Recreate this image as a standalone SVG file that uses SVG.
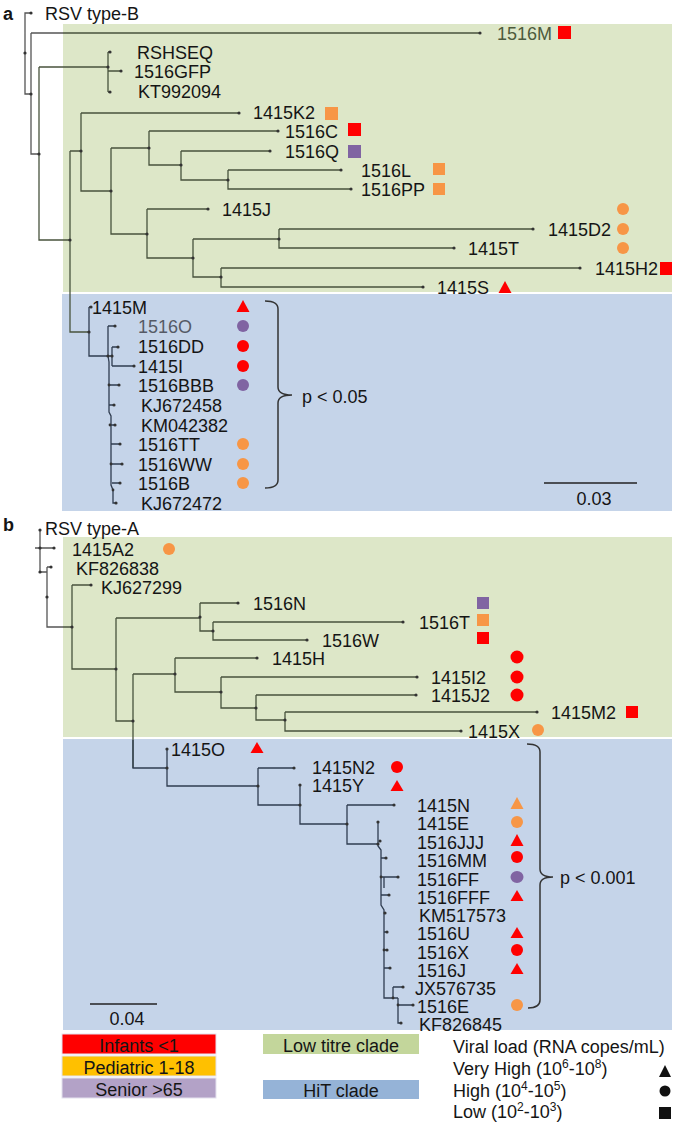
<svg xmlns="http://www.w3.org/2000/svg" width="675" height="1126" viewBox="0 0 675 1126">
<style>
text{font-family:"Liberation Sans",Arial,sans-serif;font-size:18px;fill:#151515}
.lbl{font-weight:bold}
.gy{fill:#4d5a3c}
.gb{fill:#555a66}
.ew{fill:none;stroke:#555;stroke-width:1.3}
.eg{fill:none;stroke:#48533d;stroke-width:1.3}
.eb{fill:none;stroke:#2f3c50;stroke-width:1.3}
.nd circle{fill:#333}
.red{fill:#ff0000}
.org{fill:#f79646}
.pur{fill:#8064a2}
.blk{fill:#111}
.br{fill:none;stroke:#333;stroke-width:1.5}
.sb{stroke:#222;stroke-width:1.5}
.lg{stroke:#e4e2ee;stroke-width:1}
.ct{text-anchor:middle}
</style>
<g id="backgrounds">
<rect x="63" y="24" width="609" height="268" fill="#dde7c8"/>
<rect x="62" y="294" width="610" height="217" fill="#c5d4e9"/>
<rect x="63" y="537" width="609" height="200" fill="#dde7c8"/>
<rect x="63" y="739" width="609" height="291" fill="#c5d4e9"/>
</g>
<text class="lbl" x="3" y="20">a</text>
<text class="lbl" x="3" y="531">b</text>
<g id="connectors">
<path class="ew" d="M31,13 H25 V94 H31 M31,33 V154 H39 M31,33 H63"/>
<path class="eg" d="M63,33 H480 M39,67 V240 H70 M39,67 H108 M108,52 V92 M108,52 H110 M108,71 H121 M108,92 H110
M70,151 V332 H89 M70,151 H81 M81,113 V191 H111 M81,113 H239 M111,148 V234 H147 M111,148 H149
M149,131 V165 H181 M149,131 H278 M181,151 V180 H228 M181,151 H270 M228,170 V189 H351 M228,170 H341
M147,209 V258 H193 M147,209 H208 M193,239 V277 H221 M193,239 H279 M279,229 V248 H454 M279,229 H533
M221,268 V287 H423 M221,268 H580"/>
<path class="eb" d="M89,307 V356 H112 M89,307 H91 M108,326 V356 M108,326 H115 M112,347 V366 M112,347 H118 M112,366 H134
M108,356 L109,362 V412 L111,416 V485 L113,490 V503 H116 M109,385 H119 M109,405 H114 M110,425 H115 M111,444 H120 M111,464 H122 M112,483 H120"/>
<path class="ew" d="M40,530 V572 H47 M35,548 H54 M47,567 V627 H63 M47,567 H51"/>
<path class="eg" d="M63,627 H72 M72,585 V669 H116 M72,585 H91 M116,618 V721 H133 M116,618 H200 M200,603 V631 H213 M200,603 H238
M213,622 V640 H307 M213,622 H403 M133,674 V768 M133,674 H175 M175,658 V692 H221 M175,658 H257
M221,677 V708 H256 M221,677 H417 M256,695 V720 H285 M256,695 H416 M285,712 V731 H461 M285,712 H537"/>
<path class="eb" d="M133,740 V768 H167 M167,749 V786 H258 M258,768 V805 H300 M258,768 H294 M300,785 V824 H347 M347,805 V844 H378 M347,805 H394
M378,822 V846 L381,850 V905 L384,910 V998 H398 M381,858 H386 M381,877 H384 V888 M384,877 H398 M381,895 H389 M384,913 H385 M384,932 H387 M384,950 H387 M384,968 H390
M393,987 V998 M393,987 H403 M398,998 V1023 H401 M398,1005 H413"/>
</g>
<g id="node-dots" class="nd">
<circle cx="31" cy="13" r="1.6"/><circle cx="25" cy="53" r="1.6"/><circle cx="31" cy="94" r="1.6"/><circle cx="480" cy="33" r="1.6"/><circle cx="39" cy="154" r="1.6"/><circle cx="108" cy="67" r="1.6"/><circle cx="110" cy="52" r="1.6"/><circle cx="121" cy="71" r="1.6"/><circle cx="110" cy="92" r="1.6"/><circle cx="239" cy="113" r="1.6"/><circle cx="70" cy="240" r="1.6"/><circle cx="81" cy="151" r="1.6"/><circle cx="111" cy="191" r="1.6"/><circle cx="278" cy="131" r="1.6"/><circle cx="149" cy="148" r="1.6"/><circle cx="270" cy="151" r="1.6"/><circle cx="181" cy="165" r="1.6"/><circle cx="228" cy="180" r="1.6"/><circle cx="341" cy="170" r="1.6"/><circle cx="351" cy="189" r="1.6"/><circle cx="208" cy="209" r="1.6"/><circle cx="147" cy="234" r="1.6"/><circle cx="193" cy="258" r="1.6"/><circle cx="279" cy="239" r="1.6"/><circle cx="533" cy="229" r="1.6"/><circle cx="454" cy="248" r="1.6"/><circle cx="221" cy="277" r="1.6"/><circle cx="580" cy="268" r="1.6"/><circle cx="423" cy="287" r="1.6"/>
<circle cx="89" cy="332" r="1.6"/><circle cx="91" cy="307" r="1.6"/><circle cx="115" cy="326" r="1.6"/><circle cx="108" cy="356" r="1.6"/><circle cx="112" cy="356" r="1.6"/><circle cx="118" cy="347" r="1.6"/><circle cx="134" cy="366" r="1.6"/><circle cx="119" cy="385" r="1.6"/><circle cx="114" cy="405" r="1.6"/><circle cx="115" cy="425" r="1.6"/><circle cx="120" cy="444" r="1.6"/><circle cx="122" cy="464" r="1.6"/><circle cx="120" cy="483" r="1.6"/><circle cx="116" cy="503" r="1.6"/><circle cx="109" cy="385" r="1.4"/><circle cx="110" cy="425" r="1.4"/><circle cx="111" cy="464" r="1.4"/><circle cx="113" cy="490" r="1.4"/>
<circle cx="40" cy="530" r="1.6"/><circle cx="40" cy="548" r="1.6"/><circle cx="54" cy="548" r="1.6"/><circle cx="40" cy="572" r="1.6"/><circle cx="47" cy="597" r="1.6"/><circle cx="51" cy="567" r="1.6"/><circle cx="72" cy="627" r="1.6"/><circle cx="91" cy="585" r="1.6"/><circle cx="116" cy="669" r="1.6"/><circle cx="200" cy="617" r="1.6"/><circle cx="238" cy="603" r="1.6"/><circle cx="213" cy="631" r="1.6"/><circle cx="403" cy="622" r="1.6"/><circle cx="307" cy="640" r="1.6"/><circle cx="133" cy="721" r="1.6"/><circle cx="175" cy="674" r="1.6"/><circle cx="257" cy="658" r="1.6"/><circle cx="221" cy="692" r="1.6"/><circle cx="417" cy="677" r="1.6"/><circle cx="256" cy="708" r="1.6"/><circle cx="416" cy="695" r="1.6"/><circle cx="285" cy="720" r="1.6"/><circle cx="537" cy="712" r="1.6"/><circle cx="461" cy="731" r="1.6"/>
<circle cx="167" cy="768" r="1.6"/><circle cx="167" cy="749" r="1.6"/><circle cx="258" cy="786" r="1.6"/><circle cx="294" cy="768" r="1.6"/><circle cx="300" cy="805" r="1.6"/><circle cx="300" cy="785" r="1.6"/><circle cx="347" cy="824" r="1.6"/><circle cx="394" cy="805" r="1.6"/><circle cx="378" cy="844" r="1.6"/><circle cx="378" cy="822" r="1.6"/><circle cx="380" cy="841" r="1.6"/><circle cx="386" cy="858" r="1.6"/><circle cx="398" cy="877" r="1.6"/><circle cx="389" cy="895" r="1.6"/><circle cx="385" cy="913" r="1.6"/><circle cx="387" cy="932" r="1.6"/><circle cx="387" cy="950" r="1.6"/><circle cx="390" cy="968" r="1.6"/><circle cx="403" cy="987" r="1.6"/><circle cx="413" cy="1005" r="1.6"/><circle cx="401" cy="1023" r="1.6"/><circle cx="381" cy="877" r="1.4"/><circle cx="384" cy="950" r="1.4"/><circle cx="393" cy="998" r="1.4"/><circle cx="398" cy="1005" r="1.4"/>
</g>
<!-- panel a leaves -->
<g id="a-RSVB"><text x="45" y="20">RSV type-B</text></g>
<g id="a-1516M"><text class="gy" x="497" y="40">1516M</text><rect class="red" x="558" y="26" width="13" height="13"/></g>
<g id="a-RSHSEQ"><text x="137" y="59">RSHSEQ</text></g>
<g id="a-1516GFP"><text x="134" y="78">1516GFP</text></g>
<g id="a-KT992094"><text x="138" y="98">KT992094</text></g>
<g id="a-1415K2"><text x="253" y="119">1415K2</text><rect class="org" x="325" y="107" width="13" height="13"/></g>
<g id="a-1516C"><text x="285" y="138">1516C</text><rect class="red" x="348" y="123" width="13" height="13"/></g>
<g id="a-1516Q"><text x="285" y="158">1516Q</text><rect class="pur" x="348" y="145" width="13" height="13"/></g>
<g id="a-1516L"><text x="361" y="177">1516L</text><rect class="org" x="433" y="163" width="12" height="12"/></g>
<g id="a-1516PP"><text x="361" y="196">1516PP</text><rect class="org" x="433" y="183" width="12" height="12"/></g>
<g id="a-1415J"><text x="222" y="216">1415J</text><circle class="org" cx="623" cy="209" r="6"/></g>
<g id="a-1415D2"><text x="548" y="236">1415D2</text><circle class="org" cx="623" cy="229" r="6"/></g>
<g id="a-1415T"><text x="468" y="255">1415T</text><circle class="org" cx="623" cy="248" r="6"/></g>
<g id="a-1415H2"><text x="595" y="275">1415H2</text><rect class="red" x="660" y="262" width="12" height="13"/></g>
<g id="a-1415S"><text x="437" y="294">1415S</text><polygon class="red" points="498.5,293 505,281 511.5,293"/></g>
<g id="a-1415M"><text x="92" y="314">1415M</text><polygon class="red" points="236.5,312 243,300 249.5,312"/></g>
<g id="a-1516O"><text class="gb" x="138" y="333">1516O</text><circle class="pur" cx="243" cy="326" r="6"/></g>
<g id="a-1516DD"><text x="138" y="353">1516DD</text><circle class="red" cx="243" cy="346" r="6"/></g>
<g id="a-1415I"><text x="138" y="373">1415I</text><circle class="red" cx="243" cy="366" r="6"/></g>
<g id="a-1516BBB"><text x="138" y="392">1516BBB</text><circle class="pur" cx="243" cy="385" r="6"/></g>
<g id="a-KJ672458"><text x="141" y="412">KJ672458</text></g>
<g id="a-KM042382"><text x="141" y="432">KM042382</text></g>
<g id="a-1516TT"><text x="138" y="451">1516TT</text><circle class="org" cx="243" cy="444" r="6"/></g>
<g id="a-1516WW"><text x="138" y="471">1516WW</text><circle class="org" cx="243" cy="464" r="6"/></g>
<g id="a-1516B"><text x="138" y="490">1516B</text><circle class="org" cx="243" cy="483" r="6"/></g>
<g id="a-KJ672472"><text x="141" y="510">KJ672472</text></g>
<g id="a-bracket"><path class="br" d="M265,301 Q278,301 278,309 L278,387 Q278,395 292,395 Q278,395 278,403 L278,480 Q278,488 265,488"/><text x="302" y="403">p &lt; 0.05</text></g>
<g id="a-scale"><line class="sb" x1="544" y1="483" x2="637" y2="483"/><text class="ct" x="594" y="505">0.03</text></g>
<!-- panel b leaves -->
<g id="b-RSVA"><text x="45" y="535">RSV type-A</text></g>
<g id="b-1415A2"><text x="72" y="556">1415A2</text><circle class="org" cx="169" cy="549" r="6"/></g>
<g id="b-KF826838"><text x="76" y="575">KF826838</text></g>
<g id="b-KJ627299"><text x="101" y="594">KJ627299</text></g>
<g id="b-1516N"><text x="253" y="610">1516N</text><rect class="pur" x="477" y="597" width="12" height="12"/></g>
<g id="b-1516T"><text x="419" y="629">1516T</text><rect class="org" x="477" y="614" width="12" height="12"/></g>
<g id="b-1516W"><text x="322" y="647">1516W</text><rect class="red" x="477" y="632" width="12" height="12"/></g>
<g id="b-1415H"><text x="272" y="665">1415H</text><circle class="red" cx="517" cy="657" r="6.5"/></g>
<g id="b-1415I2"><text x="431" y="684">1415I2</text><circle class="red" cx="517" cy="677" r="6.5"/></g>
<g id="b-1415J2"><text x="431" y="702">1415J2</text><circle class="red" cx="517" cy="695" r="6.5"/></g>
<g id="b-1415M2"><text x="551" y="719">1415M2</text><rect class="red" x="626" y="706" width="12" height="12"/></g>
<g id="b-1415X"><text x="468" y="738">1415X</text><circle class="org" cx="538" cy="730" r="6"/></g>
<g id="b-1415O"><text x="171" y="756">1415O</text><polygon class="red" points="250.5,753 257,742 263.5,753"/></g>
<g id="b-1415N2"><text x="312" y="774">1415N2</text><circle class="red" cx="397" cy="767" r="6"/></g>
<g id="b-1415Y"><text x="312" y="792">1415Y</text><polygon class="red" points="390.5,791 397,780 403.5,791"/></g>
<g id="b-1415N"><text x="417" y="812">1415N</text><polygon class="org" points="510.5,809 517,797 523.5,809"/></g>
<g id="b-1415E"><text x="417" y="830">1415E</text><circle class="org" cx="517" cy="822" r="6"/></g>
<g id="b-1516JJJ"><text x="417" y="849">1516JJJ</text><polygon class="red" points="510.5,846 517,834 523.5,846"/></g>
<g id="b-1516MM"><text x="417" y="867">1516MM</text><circle class="red" cx="517" cy="857" r="6"/></g>
<g id="b-1516FF"><text x="417" y="886">1516FF</text><ellipse class="pur" cx="517" cy="877" rx="6.5" ry="6"/></g>
<g id="b-1516FFF"><text x="417" y="904">1516FFF</text><polygon class="red" points="510.5,901 517,890 523.5,901"/></g>
<g id="b-KM517573"><text x="419" y="922">KM517573</text></g>
<g id="b-1516U"><text x="417" y="940">1516U</text><polygon class="red" points="510.5,938 517,927 523.5,938"/></g>
<g id="b-1516X"><text x="417" y="959">1516X</text><circle class="red" cx="517" cy="950" r="6"/></g>
<g id="b-1516J"><text x="417" y="977">1516J</text><polygon class="red" points="510.5,974 517,963 523.5,974"/></g>
<g id="b-JX576735"><text x="415" y="995">JX576735</text></g>
<g id="b-1516E"><text x="417" y="1013">1516E</text><circle class="org" cx="517" cy="1005" r="6"/></g>
<g id="b-KF826845"><text x="419" y="1031">KF826845</text></g>
<g id="b-bracket"><path class="br" d="M527,744 Q540,744 540,752 L540,869 Q540,877 553,877 Q540,877 540,885 L540,1000 Q540,1008 528,1008"/><text x="560" y="884">p &lt; 0.001</text></g>
<g id="b-scale"><line class="sb" x1="90" y1="1004" x2="157" y2="1004"/><text class="ct" x="127" y="1025">0.04</text></g>
<!-- legend -->
<g id="legend-infants"><rect class="lg" x="62" y="1034" width="154" height="20" fill="#ff0000"/><text class="ct" x="139" y="1052">Infants &lt;1</text></g>
<g id="legend-pediatric"><rect class="lg" x="62" y="1056" width="154" height="20" fill="#ffc000"/><text class="ct" x="139" y="1074">Pediatric 1-18</text></g>
<g id="legend-senior"><rect class="lg" x="62" y="1078" width="154" height="20" fill="#b3a2c7"/><text class="ct" x="139" y="1096">Senior &gt;65</text></g>
<g id="legend-low"><rect x="263" y="1034" width="156" height="20" fill="#c3d69b"/><text class="ct" x="341" y="1052">Low titre clade</text></g>
<g id="legend-hit"><rect x="263" y="1080" width="156" height="19" fill="#95b3d7"/><text class="ct" x="341" y="1097">HiT clade</text></g>
<g id="legend-viral">
<text x="453" y="1053">Viral load (RNA copes/mL)</text>
<text x="453" y="1075">Very High (10<tspan font-size="12" dy="-7">6</tspan><tspan dy="7">-10</tspan><tspan font-size="12" dy="-7">8</tspan><tspan dy="7">)</tspan></text>
<text x="453" y="1097">High (10<tspan font-size="12" dy="-7">4</tspan><tspan dy="7">-10</tspan><tspan font-size="12" dy="-7">5</tspan><tspan dy="7">)</tspan></text>
<text x="453" y="1118">Low (10<tspan font-size="12" dy="-7">2</tspan><tspan dy="7">-10</tspan><tspan font-size="12" dy="-7">3</tspan><tspan dy="7">)</tspan></text>
<polygon class="blk" points="659,1077 665,1065 671,1077"/>
<circle class="blk" cx="665" cy="1091" r="5.5"/>
<rect class="blk" x="659" y="1107" width="12" height="12"/>
</g>
</svg>
